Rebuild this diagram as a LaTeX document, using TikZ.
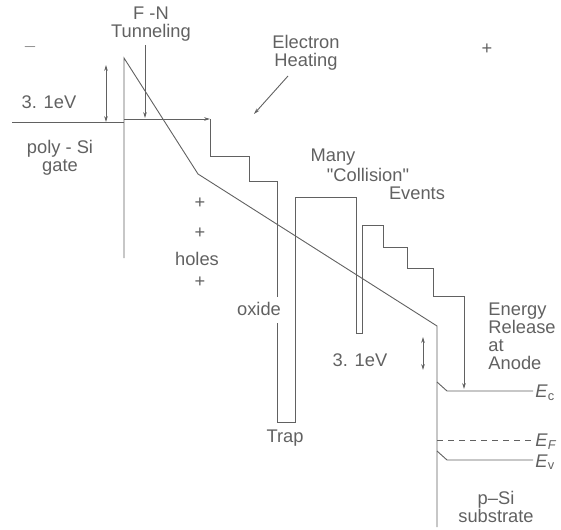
\documentclass[tikz,border=0pt]{standalone}
\usepackage{fontspec}
\setmainfont{Liberation Sans}
\usetikzlibrary{arrows.meta}
\definecolor{ln}{gray}{0.38}
\begin{document}
\begin{tikzpicture}[x=1pt,y=-1pt,line width=0.9pt,
  band/.style={draw=ln},
  tipped/.style={draw=ln,-{Stealth[length=6pt,width=3.6pt]}},
  dbl/.style={draw=ln,{Stealth[length=6pt,width=3.6pt]}-{Stealth[length=6pt,width=3.6pt]}},
  lbl/.style={text=ln,font=\fontsize{18.3}{18}\selectfont,inner sep=0pt,align=center},
  lbll/.style={lbl,align=left,anchor=west}]
\useasboundingbox (0,0) rectangle (561,529);
% gate Fermi level
\draw[band] (12,122) -- (124,122);
% oxide conduction band
\draw[band] (124,258) -- (124,58) -- (198,174) -- (437,326) -- (437,527);
% electron path
\draw[tipped] (124,119) -- (210,119);
\draw[band] (210,119) -- (210,156) -- (249,156) -- (249,181) -- (277,181) -- (277,297);
\draw[band] (277,323) -- (277,422) -- (295,422) -- (295,197) -- (356,197) -- (356,333)
  -- (362,333) -- (362,225) -- (383,225) -- (383,247) -- (407,247) -- (407,268)
  -- (433,268) -- (433,296) -- (464,296);
\draw[tipped] (464,296) -- (464,389);
% silicon bands
\draw[band] (437,382) -- (447,391) -- (533,391);
\draw[band,dash pattern=on 6pt off 5pt] (437,440) -- (533,440);
\draw[band] (437,451) -- (447,460) -- (533,460);
% arrows
\draw[dbl] (106,65) -- (106,122);
\draw[dbl] (423,337) -- (423,370);
\draw[tipped] (145,45) -- (145,118);
\draw[tipped] (288,76) -- (254,114);
% labels
\node[lbl] (minus) at (30,47) {$-$};
\node[lbl] (plus) at (487,49) {+};
\node[lbl] (fn) at (151,24) {F -N\\Tunneling};
\node[lbl] (heat) at (306,53) {Electron\\Heating};
\node[lbl] (ev1) at (49,102) {3. 1eV};
\node[lbl] (gate) at (60,158) {poly - Si\\gate};
\node[lbl] (p1) at (200,203) {+};
\node[lbl] (p2) at (200,233) {+};
\node[lbl] (holes) at (197,259) {holes};
\node[lbl] (p3) at (200,282) {+};
\node[lbl] (oxide) at (259,309) {oxide};
\node[lbl] (trap) at (285,438) {Trap};
\node[lbl] (many) at (333,157) {Many};
\node[lbl] (coll) at (368,175) {\textquotedbl Collision\textquotedbl};
\node[lbl] (events) at (417,193) {Events};
\node[lbl] (ev2) at (360,360) {3. 1eV};
\node[lbll] (energy) at (488,336) {Energy\\Release\\at\\Anode};
\node[lbll] (ec) at (535,393) {\textit{E}\textsubscript{c}};
\node[lbll] (ef) at (535,442) {\textit{E}\textsubscript{\textit{F}}};
\node[lbll] (evl) at (535,462) {\textit{E}\textsubscript{v}};
\node[lbl] (sub) at (496,507) {p--Si\\substrate};
\end{tikzpicture}
\end{document}
